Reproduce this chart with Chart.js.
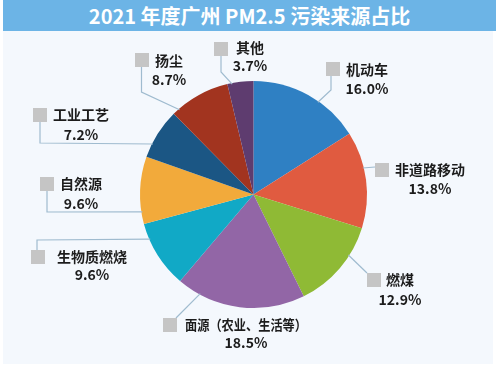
<!DOCTYPE html>
<html>
<head>
<meta charset="utf-8">
<script src="https://cdn.jsdelivr.net/npm/chart.js@4.4.1/dist/chart.umd.min.js"></script>
<style>
  html, body { margin:0; padding:0; background:#ffffff; }
  #wrap { position:relative; width:500px; height:370px; overflow:hidden; background:#ffffff; }
  #bar { position:absolute; left:3px; top:0; width:493px; height:31px; background:#6cb4e6;
         color:#ffffff; font:bold 20px "Noto Sans CJK SC", "Noto Sans", sans-serif;
         text-align:center; line-height:32px; letter-spacing:0px; }
  #panel { position:absolute; left:3px; top:31px; width:490px; height:333px; background:#f4f8fd; }
  #c { position:absolute; left:0; top:0; }
</style>
</head>
<body>
<div id="wrap">
  <div id="bar">2021 年度广州 PM2.5 污染来源占比</div>
  <div id="panel"></div>
  <canvas id="c" width="500" height="370"></canvas>
</div>
<script>
const categories = ['机动车', '非道路移动', '燃煤', '面源（农业、生活等）', '生物质燃烧', '自然源', '工业工艺', '扬尘', '其他'];
const shares = [16.0, 13.8, 12.9, 18.5, 9.6, 9.6, 7.2, 8.7, 3.7];
const sliceColors = ['#2f80c3', '#e05b40', '#8fba35', '#9266a6', '#11a9c6', '#f2aa3b', '#1b5684', '#a2341f', '#5e3c6f'];

// label layout: square top-left, text start, leader path (last point snapped to pie edge)
const labelLayout = [
  { sq:[326,62], tx:346, y1:70,  y2:89,  path:[[331,76],[331,90],[318,102]] },
  { sq:[375,163], tx:395, y1:170, y2:189, path:[[375,167],[367,167]] },
  { sq:[367,273], tx:386, y1:280, y2:300, path:[[367,273],[350,256]] },
  { sq:[163,318], tx:185, y1:325, y2:343, path:[[176,318],[200,294]], maxW:122 },
  { sq:[31,250], tx:57, y1:257, y2:275, path:[[37,250],[37,240],[148,240]] },
  { sq:[40,177], tx:60, y1:184, y2:204, path:[[47,190],[47,212],[142,212]] },
  { sq:[33,108], tx:53, y1:115, y2:135, path:[[40,122],[40,143],[151,143]] },
  { sq:[135,53], tx:155, y1:61, y2:80, path:[[141.5,66],[141.5,92],[178,108]] },
  { sq:[214,42], tx:236, y1:48, y2:66, path:[[221,55],[221,72],[232,83]] }
];

const calloutPlugin = {
  id: 'callouts',
  afterDatasetsDraw(chart) {
    const ctx = chart.ctx;
    const meta = chart.getDatasetMeta(0);
    const font = 'bold 14px "Noto Sans CJK SC", "Noto Sans", sans-serif';
    ctx.save();
    meta.data.forEach((arc, i) => {
      const L = labelLayout[i];
      const cx = arc.x, cy = arc.y, r = arc.outerRadius;
      const pts = L.path.map(p => p.slice());
      const last = pts[pts.length - 1];
      const a = Math.atan2(last[1] - cy, last[0] - cx);
      pts[pts.length - 1] = [cx + (r - 1) * Math.cos(a), cy + (r - 1) * Math.sin(a)];
      ctx.beginPath();
      ctx.strokeStyle = '#9fbbcf';
      ctx.lineWidth = 1.2;
      ctx.moveTo(pts[0][0], pts[0][1]);
      for (let k = 1; k < pts.length; k++) ctx.lineTo(pts[k][0], pts[k][1]);
      ctx.stroke();
      ctx.fillStyle = '#c5c5c5';
      ctx.fillRect(L.sq[0], L.sq[1], 14, 14);
      ctx.fillStyle = '#1c1c1c';
      ctx.font = font;
      ctx.textBaseline = 'middle';
      ctx.textAlign = 'left';
      const name = categories[i];
      let w = ctx.measureText(name).width;
      if (L.maxW && w > L.maxW) { ctx.fillText(name, L.tx, L.y1, L.maxW); w = L.maxW; }
      else ctx.fillText(name, L.tx, L.y1);
      ctx.textAlign = 'center';
      ctx.fillText(shares[i].toFixed(1) + '%', L.tx + w / 2, L.y2);
    });
    ctx.restore();
  }
};

new Chart(document.getElementById('c'), {
  type: 'pie',
  data: {
    labels: categories,
    datasets: [{ data: shares, backgroundColor: sliceColors, borderWidth: 0 }]
  },
  options: {
    responsive: false,
    animation: false,
    layout: { padding: { left: 140, right: 133, top: 81, bottom: 62 } },
    plugins: { legend: { display: false }, tooltip: { enabled: false }, title: { display: false } }
  },
  plugins: [calloutPlugin]
});
</script>
</body>
</html>
